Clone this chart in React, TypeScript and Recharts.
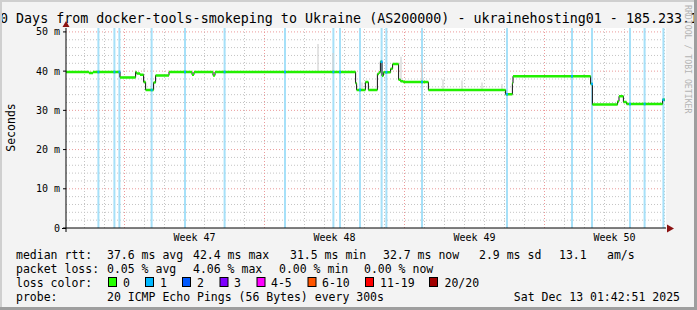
import { ComposedChart, Line, XAxis, YAxis, CartesianGrid, ReferenceLine } from 'recharts';

const MONO = '"DejaVu Sans Mono", monospace';

// x axis is in days since the start of the 30 day window
const weekLabels = ['Week 47', 'Week 48', 'Week 49', 'Week 50'];
const weekCenters = [6.425, 13.425, 20.425, 27.425];
const weekStarts = [2.925, 9.925, 16.925, 23.925];
const dayLines = [
  0.925, 1.925, 3.925, 4.925, 5.925, 6.925, 7.925, 8.925, 10.925, 11.925, 12.925, 13.925,
  14.925, 15.925, 17.925, 18.925, 19.925, 20.925, 21.925, 22.925, 24.925, 25.925, 26.925,
  27.925, 28.925, 29.925,
];
const yTicks = [0, 10, 20, 30, 40, 50];
const yMinor = [2, 4, 6, 8, 12, 14, 16, 18, 22, 24, 26, 28, 32, 34, 36, 38, 42, 44, 46, 48];

// median rtt (ms), step segments
const segStart = [
  0, 1.15, 1.35, 2.7, 3.48, 3.53, 3.7, 3.88, 3.98, 4.38, 4.48, 5.15, 6.3, 6.4, 7.35, 7.45,
  14.48, 14.53, 14.97, 15.12, 15.57, 15.65, 15.72, 15.8, 15.87, 16.23, 16.33, 16.63, 16.73,
  16.87, 18.12, 21.98, 22.32, 22.35, 26.23, 26.32, 27.58, 27.65, 27.87, 28.03, 29.83,
];
const segMedian = [
  39.8, 39.5, 39.8, 38.4, 39.8, 39.4, 39.1, 37.2, 35.2, 37.1, 38.9, 39.8, 39.1, 39.8, 38.9, 39.8,
  36.9, 35.2, 37.2, 35.2, 39.3, 39.7, 42.4, 38.8, 39.7, 40.6, 41.8, 37.8, 37.4,
  37.2, 35.2, 34.1, 36.9, 38.7, 36.7, 31.5, 32.3, 33.6, 32.1, 31.6, 32.7,
];
const endDay = 29.95;

// samples with 1 lost ping
const lossDays = [
  1.62, 2.42, 2.67, 4.28, 5.95, 7.93, 10.95, 13.37, 13.7, 14.7, 15.78, 16.02, 17.8, 22.05,
  25.3, 26.3, 28.2, 28.93, 29.87,
];

// smoke spikes (ms)
const smokeDay = [3.9, 12.6, 13.35, 14.8, 16.75, 17.78, 18.85, 19.8, 20.8, 21.8, 25.9];
const smokeLo = [39.8, 39.8, 39.8, 35.2, 37.6, 37.2, 35.2, 35.2, 35.2, 35.2, 38.7];
const smokeHi = [40.6, 46.9, 44.6, 37.1, 43.7, 42.0, 37.9, 37.6, 37.1, 36.7, 39.3];

const lossColors = ['#26ff00', '#00b8ff', '#0059ff', '#7e00ff', '#ff00ff', '#ff5500', '#ff0000', '#a10000'];
const lossLabels = ['0', '1', '2', '3', '4-5', '6-10', '11-19', '20/20'];
const lossBoxX = [108, 145, 182, 219.5, 256.5, 307.5, 365, 429];
const lossTextX = [123, 160, 197, 234, 271, 322, 380, 444.5];

const rttRow = [
  [107, '37.6 ms avg'], [193, '42.4 ms max'], [290, '31.5 ms min'], [383, '32.7 ms now'],
  [479, '2.9 ms sd'], [559, '13.1'], [607, 'am/s'],
] as const;
const lossRow = [[107, '0.05 % avg'], [193, '4.06 % max'], [279, '0.00 % min'], [364, '0.00 % now']] as const;

function medianAt(d: number) {
  let v = segMedian[0];
  segStart.forEach((s, i) => {
    if (s <= d) v = segMedian[i];
  });
  return v;
}

const stepData = [
  ...segStart.map((s, i) => ({ x: s, m: segMedian[i] })),
  { x: endDay, m: segMedian[segMedian.length - 1] },
];

const greenData = segStart.flatMap((s, i) => {
  const e = i + 1 < segStart.length ? segStart[i + 1] : endDay;
  return [
    { x: s, g: segMedian[i] },
    { x: e, g: segMedian[i] },
    { x: e, g: null },
  ];
});

const blueData = lossDays.flatMap((d) => [
  { x: d - 0.05, b: medianAt(d) },
  { x: d + 0.05, b: medianAt(d) },
  { x: d + 0.05, b: null },
]);

export default function App() {
  return (
    <div
      style={{
        position: 'fixed',
        left: 0,
        top: 0,
        width: 697,
        height: 310,
        background: '#f3f3f3',
        overflow: 'hidden',
        fontFamily: MONO,
      }}
    >
      <div style={{ position: 'absolute', left: 0, top: 0 }}>
        <ComposedChart width={697} height={310} margin={{ top: 28, right: 31, bottom: 52, left: 6 }}>
          <CartesianGrid fill="#ffffff" fillOpacity={1} horizontal={false} vertical={false} />
          {yMinor.map((v) => (
            <ReferenceLine key={'hm' + v} y={v} stroke="#c4c4c4" strokeDasharray="1 2" />
          ))}
          {dayLines.map((d) => (
            <ReferenceLine key={'vm' + d} x={d} stroke="#c4c4c4" strokeDasharray="1 2" />
          ))}
          {yTicks.slice(1).map((v) => (
            <ReferenceLine key={'hM' + v} y={v} stroke="#eb9a9a" strokeDasharray="1 2" />
          ))}
          {weekStarts.map((d) => (
            <ReferenceLine key={'vM' + d} x={d} stroke="#eb9a9a" strokeDasharray="1 2" />
          ))}
          {lossDays.map((d) => (
            <ReferenceLine key={'l' + d} x={d} stroke="#a6e0f8" strokeWidth={2} />
          ))}
          {smokeDay.map((d, i) => (
            <ReferenceLine
              key={'s' + d}
              segment={[{ x: d, y: smokeLo[i] }, { x: d, y: smokeHi[i] }]}
              stroke="#d2d2d2"
              strokeWidth={1.2}
            />
          ))}
          <XAxis
            dataKey="x"
            type="number"
            domain={[0, 30]}
            allowDataOverflow
            ticks={weekCenters}
            tickFormatter={(_v, i) => weekLabels[i]}
            tickLine={false}
            tickSize={4}
            tickMargin={2}
            height={30}
            axisLine={{ stroke: '#000' }}
            tick={{ fill: '#000', fontSize: 10, fontFamily: MONO }}
          />
          <YAxis
            type="number"
            domain={[0, 51]}
            allowDataOverflow
            ticks={yTicks}
            tickFormatter={(v) => (v === 0 ? '0' : `${v} m`)}
            width={60}
            tickSize={3}
            tickMargin={3}
            axisLine={{ stroke: '#000' }}
            tickLine={{ stroke: '#000' }}
            tick={{ fill: '#000', fontSize: 10, fontFamily: MONO }}
          />
          <Line
            data={stepData}
            dataKey="m"
            type="stepAfter"
            stroke="#111"
            strokeWidth={1}
            dot={false}
            activeDot={false}
            isAnimationActive={false}
          />
          <Line
            data={greenData}
            dataKey="g"
            type="linear"
            stroke="#22f000"
            strokeWidth={2.5}
            dot={false}
            activeDot={false}
            connectNulls={false}
            isAnimationActive={false}
          />
          <Line
            data={blueData}
            dataKey="b"
            type="linear"
            stroke="#00b0f8"
            strokeWidth={2.5}
            dot={false}
            activeDot={false}
            connectNulls={false}
            isAnimationActive={false}
          />
        </ComposedChart>
      </div>
      <svg
        width={697}
        height={310}
        style={{ position: 'absolute', left: 0, top: 0, pointerEvents: 'none' }}
        fontFamily={MONO}
      >
        <text x={-8} y={23} fontSize={13.33} fill="#000">
          30 Days from docker-tools-smokeping to Ukraine (AS200000) - ukrainehosting01 - 185.233.1
        </text>
        <text transform="translate(14.5,127.5) rotate(-90)" textAnchor="middle" fontSize={11.5} fill="#000">
          Seconds
        </text>
        <text transform="translate(684.5,5) rotate(90)" fontSize={8.2} fill="#b4b4b4">
          RRDTOOL / TOBI OETIKER
        </text>
        <line x1={66} y1={228} x2={66} y2={232} stroke="#000" />
        <line x1={62} y1={228.5} x2={66} y2={228.5} stroke="#000" />
        <polygon points="62.5,27 69.5,27 66,21" fill="#8b1111" />
        <polygon points="667,224.5 667,232.5 674,228.5" fill="#8b1111" />
        <g fontSize={11.5} fill="#000" xmlSpace="preserve">
          <text x={16} y={258.5}>median rtt:</text>
          {rttRow.map(([x, t]) => (
            <text key={t} x={x} y={258.5}>{t}</text>
          ))}
          <text x={16} y={272.5}>packet loss:</text>
          {lossRow.map(([x, t]) => (
            <text key={t + x} x={x} y={272.5}>{t}</text>
          ))}
          <text x={16} y={286.5}>loss color:</text>
          {lossLabels.map((l, i) => (
            <g key={l}>
              <rect x={lossBoxX[i] + 0.5} y={277.5} width={8} height={9} fill={lossColors[i]} stroke="#000" />
              <text x={lossTextX[i]} y={286.5}>{l}</text>
            </g>
          ))}
          <text x={16} y={300.5}>probe:</text>
          <text x={107} y={300.5}>20 ICMP Echo Pings (56 Bytes) every 300s</text>
          <text x={680} y={300.5} textAnchor="end">Sat Dec 13 01:42:51 2025</text>
        </g>
        <rect x={0} y={0} width={697} height={2} fill="#cfcfcf" />
        <rect x={0} y={0} width={2} height={310} fill="#cfcfcf" />
        <rect x={694} y={0} width={3} height={310} fill="#9e9e9e" />
        <rect x={0} y={307} width={697} height={3} fill="#9e9e9e" />
      </svg>
    </div>
  );
}
